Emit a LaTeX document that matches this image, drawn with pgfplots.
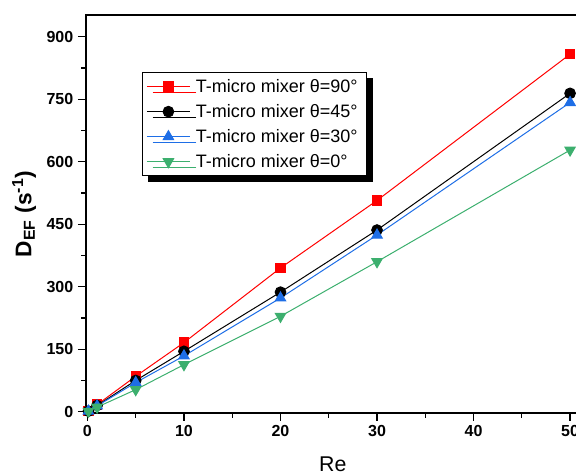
\documentclass[border=0pt]{standalone}
\usepackage{pgfplots}
\pgfplotsset{compat=1.18}
\usepackage{fontspec}
\setmainfont{Liberation Sans}
\usetikzlibrary{shadows}
\definecolor{mred}{RGB}{255,0,0}
\definecolor{mblue}{RGB}{30,110,230}
\definecolor{mgreen}{RGB}{60,175,110}
\begin{document}
\begin{tikzpicture}
% the reference is cut off on the right, so clip to its frame
\path[use as bounding box, clip] (-64.5pt,-46.5pt) rectangle (367.5pt,309.75pt);
\begin{axis}[
  scale only axis, width=370.3pt, height=298.5pt,
  xmin=-0.15, xmax=51, ymin=-3, ymax=952,
  xtick={0,10,...,50}, minor x tick num=1,
  ytick={0,150,...,900}, minor y tick num=1,
  xtick pos=bottom, ytick pos=left, tick align=outside,
  major tick length=6pt, minor tick length=3.5pt,
  every tick/.style={black, line width=0.9pt},
  axis line style={line width=1pt},
  /pgf/number format/assume math mode=true,
  ticklabel style={font=\bfseries\fontsize{12}{14}\selectfont},
  xlabel={Re}, ylabel={\textbf{D\textsubscript{EF} (s\textsuperscript{-1})}},
  xlabel style={font=\fontsize{16}{18}\selectfont, yshift=-8pt},
  ylabel style={font=\fontsize{17}{19}\selectfont, yshift=1pt},
  legend cell align=left,
  legend style={at={(0.113,0.857)}, anchor=north west, draw=black, line width=0.75pt,
    font=\fontsize{13.5}{16}\selectfont, row sep=3.5pt, inner sep=3pt,
    nodes={inner xsep=4pt},
    drop shadow={shadow xshift=4.5pt, shadow yshift=-4.5pt, fill=black, opacity=1}},
  legend image code/.code={\draw[mark repeat=2,mark phase=2] plot coordinates {(0cm,0cm)(0.57cm,0cm)(1.14cm,0cm)};},
]
\addplot[mred, line width=0.75pt, mark=square*, mark size=3.5pt] coordinates {
  (0.1,1.7) (1,17) (5,85) (10,166) (20,345) (30,507) (50,858)};
\addlegendentry{T-micro mixer θ=90°}
\addplot[black, line width=0.75pt, mark=*, mark size=4pt] coordinates {
  (0.1,1.5) (1,15) (5,75) (10,145) (20,287) (30,436) (50,764)};
\addlegendentry{T-micro mixer θ=45°}
\addplot[mblue, line width=0.75pt, mark=triangle*, mark size=4.5pt] coordinates {
  (0.1,1.4) (1,14) (5,70) (10,134) (20,273) (30,424) (50,742)};
\addlegendentry{T-micro mixer θ=30°}
\addplot[mgreen, line width=0.75pt, mark=triangle*, mark options={rotate=180}, mark size=4.5pt] coordinates {
  (0.1,1.1) (1,11) (5,53) (10,113) (20,229) (30,360) (50,628)};
\addlegendentry{T-micro mixer θ=0°}
\end{axis}
\end{tikzpicture}
\end{document}
